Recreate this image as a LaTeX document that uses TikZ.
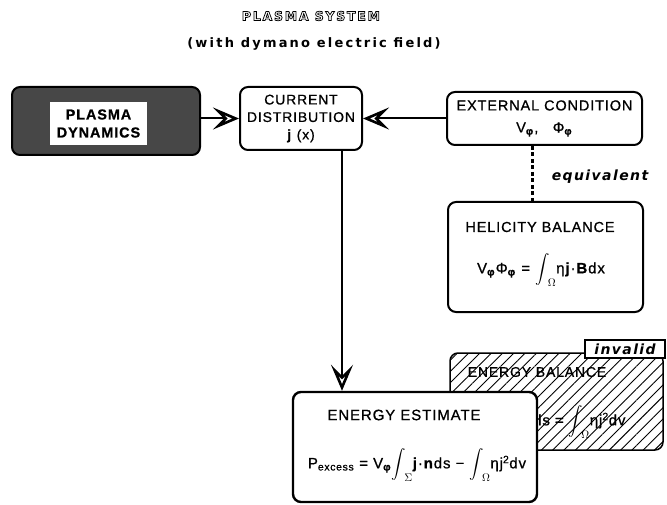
\documentclass[tikz,border=0pt]{standalone}
\usepackage{amsmath}
\usepackage[no-math]{fontspec}
\setmainfont{Liberation Sans}
\newfontfamily\boxfont[LetterSpace=6,FakeBold=0.8]{Liberation Sans}
\newfontfamily\headfont[LetterSpace=14,FakeBold=6]{DejaVu Sans}
\newfontfamily\subfont[LetterSpace=17]{DejaVu Sans}
\newfontfamily\labfont[LetterSpace=10]{DejaVu Sans}
\usetikzlibrary{arrows.meta,patterns.meta}
\newcommand{\bigint}[1]{$\displaystyle\boldsymbol{\int}_{\!#1}$}
\begin{document}
\begin{tikzpicture}[x=1pt,y=-1pt,
  box/.style={draw, line width=2pt, rounded corners=8pt, fill=white, inner sep=0pt},
  txt/.style={font=\boxfont\fontsize{14}{17.5}\selectfont, inner sep=0pt, align=center},
  eqn/.style={font=\boxfont\fontsize{15}{17}\selectfont, inner sep=0pt},
  lab/.style={font=\labfont\bfseries\itshape\fontsize{14}{17}\selectfont, inner sep=0pt},
  headtxt/.style={font=\headfont\bfseries\fontsize{12.5}{14}\selectfont, inner sep=0pt},
  arr/.style={line width=2pt, -{Stealth[open,length=26pt,width=22pt,inset=11pt,line width=2.6pt]}},
]
\useasboundingbox (0,0) rectangle (667,505);
% title (outlined: stroked black, filled white)
\node[headtxt, text=black] (title) at (311,16) {\special{pdf:literal direct 1 g}PLASMA SYSTEM};
\node[font=\subfont\bfseries\fontsize{13}{15}\selectfont, inner sep=0pt] (subtitle) at (314,44) {(with dymano electric field)};

% plasma dynamics
\node[box, minimum width=188pt, minimum height=68pt, fill=black!72] (plasma) at (106,121) {};
\node[txt, fill=white, minimum width=97pt, minimum height=43pt,
      font=\boxfont\bfseries\fontsize{14.5}{18}\selectfont] (plasmatxt) at (98.5,123.5) {PLASMA\\DYNAMICS};

% current distribution
\node[box, txt, minimum width=122pt, minimum height=63pt] (current) at (301,118.5)
  {CURRENT\\DISTRIBUTION\\\textbf{j} (x)};

% external condition
\node[box, txt, minimum width=195pt, minimum height=53pt,
      font=\boxfont\fontsize{14.5}{22}\selectfont] (external) at (544.5,118.5)
  {EXTERNAL CONDITION\\V\textsubscript{\textbf{φ}},\quad Φ\textsubscript{\textbf{φ}}};

% helicity balance
\node[box, minimum width=195pt, minimum height=110pt] (helicity) at (545.5,257) {};
\node[txt, font=\boxfont\fontsize{14.5}{17}\selectfont] (heltitle) at (540,227) {HELICITY BALANCE};
\node[eqn] (heleq) at (541,270) {V\textsubscript{\textbf{φ}}Φ\textsubscript{\textbf{φ}} = \bigint{\Omega}η\textbf{j}·\textbf{B}dx};

% equivalent (dotted)
\coordinate (dx) at (532,0);
\draw[line width=3pt, dash pattern=on 4pt off 2.5pt] (external.south -| dx) -- (helicity.north -| dx);
\node[lab] (equiv) at (600,177) {equivalent};

% energy balance (invalid, hatched)
\node[draw, line width=1.5pt, rounded corners=8pt, minimum width=213pt, minimum height=97pt,
      pattern={Lines[angle=45,distance=8pt,line width=0.9pt]}] (balance) at (556.5,401.5) {};
\node[txt] (baltitle) at (537,372) {ENERGY BALANCE};
\node[eqn, anchor=west] (baleq) at (538,422) {ls = \bigint{\Omega}ηj\textsuperscript{2}dv};
\node[draw, line width=1.5pt, fill=white, minimum width=80pt, minimum height=18pt, inner sep=0pt,
      lab] (invalid) at (625,349) {invalid};

% energy estimate
\node[box, line width=2.4pt, minimum width=244pt, minimum height=110pt] (estimate) at (415,447) {};
\node[txt, font=\boxfont\fontsize{15}{17}\selectfont] (esttitle) at (404,415) {ENERGY ESTIMATE};
\node[eqn] (esteq) at (417,465) {P\textsubscript{excess} = V\textsubscript{\textbf{φ}}\bigint{\Sigma}\textbf{j}·\textbf{n}ds − \bigint{\Omega}ηj\textsuperscript{2}dv};

% connectors
\draw[arr] (current.west -| plasma.east) -- (current.west);
\draw[arr] (external.west) -- (current.east);
\coordinate (cx) at (342,0);
\draw[arr] (current.south -| cx) -- (estimate.north -| cx);
\end{tikzpicture}
\end{document}
